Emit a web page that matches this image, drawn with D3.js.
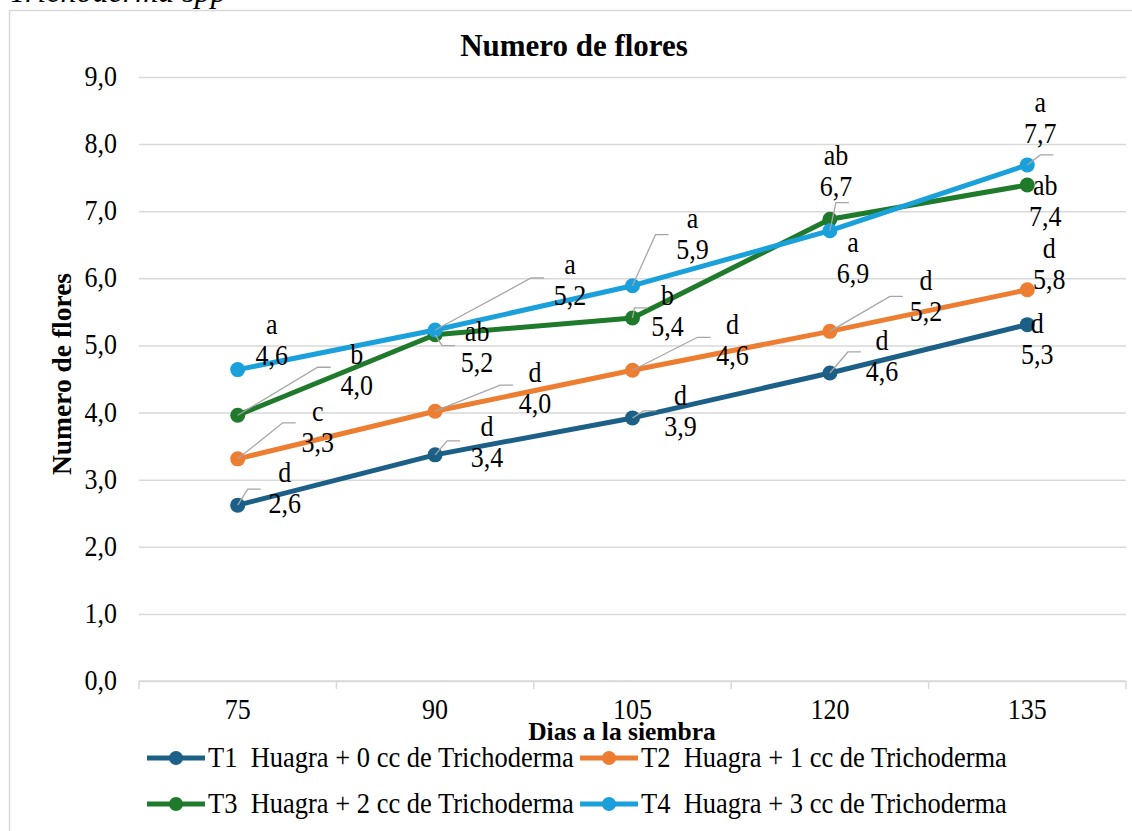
<!DOCTYPE html>
<html>
<head>
<meta charset="utf-8">
<script src="https://cdn.jsdelivr.net/npm/d3@7"></script>
<style>
  body { margin: 0; background: #fff; }
  svg text { font-family: "Liberation Serif", "Times New Roman", "DejaVu Serif", serif; fill: #000; }
</style>
</head>
<body>
<svg id="chart"></svg>
<script>
// --- Data ---
const days = ["75", "90", "105", "120", "135"];
const seriesNames = [
    "T1  Huagra + 0 cc de Trichoderma",
    "T2  Huagra + 1 cc de Trichoderma",
    "T3  Huagra + 2 cc de Trichoderma",
    "T4  Huagra + 3 cc de Trichoderma"
];
const t1 = [2.62, 3.37, 3.92, 4.59, 5.31];
const t2 = [3.31, 4.02, 4.63, 5.21, 5.83];
const t3 = [3.96, 5.16, 5.41, 6.88, 7.39];
const t4 = [4.64, 5.23, 5.89, 6.71, 7.69];
const t1Letters = ["d", "d", "d", "d", "d"];
const t2Letters = ["c", "d", "d", "d", "d"];
const t3Letters = ["b", "ab", "b", "a", "ab"];
const t4Letters = ["a", "a", "a", "ab", "a"];
const yTicks = [0, 1, 2, 3, 4, 5, 6, 7, 8, 9];

const colors = ["#1c5f87", "#ed7d31", "#1f7a2c", "#1aa0da"];

// label placement (dx, dy of label centre from point; leader elbow, or null)
const labelLayout = [
    [[47, -16, [10, -16]], [52, -12, [12, -14]], [48, -6, [11, -7]], [52, -16, [18, -21]], [10, 15, null]],
    [[80, -31, [45, -36]], [100, -22, [65, -26]], [100, -29, [65, -33]], [96, -34, [60, -35]], [22, -25, null]],
    [[119, -44, [80, -48]], [42, 13, [7, 11]], [35, -6, [2, -10]], [23, 40, null], [18, 17, null]],
    [[34, -29, null], [135, -49, [96, -52]], [60, -51, [23, -51]], [6, -59, [6, -28]], [13, -46, [13, -10]]]
];

const series = [t1, t2, t3, t4].map((values, i) => ({
    name: seriesNames[i],
    color: colors[i],
    values: values,
    letters: [t1Letters, t2Letters, t3Letters, t4Letters][i],
    layout: labelLayout[i]
}));

// --- Sizing ---
const width = 1132, height = 831;
const margin = { left: 139, right: 6, top: 77, bottom: 150 };
const stretch = 1.12;   // glyphs in the original are a bit taller than wide
const svg = d3.select("#chart").attr("width", width).attr("height", height);

// text placed at (x, y) with a slight vertical stretch
function addText(parent, x, y, str, size, opts = {}) {
    return parent.append("text")
        .attr("transform", `translate(${x},${y}) scale(1,${opts.sy || stretch})` + (opts.rotate ? ` rotate(${opts.rotate})` : ""))
        .attr("text-anchor", opts.anchor || "middle")
        .attr("font-size", size)
        .attr("font-weight", opts.bold ? "bold" : null)
        .attr("font-style", opts.italic ? "italic" : null)
        .attr("xml:space", "preserve")
        .style("white-space", "pre")
        .text(str);
}

// outer frame + clipped caption above it
svg.append("rect")
    .attr("x", 9.5).attr("y", 10.5)
    .attr("width", width).attr("height", height)
    .attr("fill", "#fff").attr("stroke", "#d9d9d9").attr("stroke-width", 1.5);

addText(svg, 9, 2, "Trichoderma spp", 32, { anchor: "start", italic: true, sy: 1 });

// --- Scales ---
const x = d3.scaleBand()
    .domain(days)
    .range([margin.left, width - margin.right]);

const y = d3.scaleLinear()
    .domain([0, 9])
    .range([height - margin.bottom, margin.top]);

const fmt = v => d3.format(".1f")(v).replace(".", ",");
const cx = d => x(d) + x.bandwidth() / 2;

// --- Gridlines & y axis ---
svg.append("g")
    .attr("transform", `translate(${margin.left},0)`)
    .call(d3.axisLeft(y).tickValues(yTicks).tickSize(-(width - margin.left - margin.right)).tickFormat(""))
    .call(g => g.select(".domain").remove())
    .call(g => g.selectAll(".tick line").attr("stroke", "#d9d9d9").attr("stroke-width", 1.5));
yTicks.forEach(t => addText(svg, 117, y(t) + 9, fmt(t), 26, { anchor: "end" }));

// --- x axis ---
const xAxisG = svg.append("g")
    .attr("transform", `translate(0,${y(0)})`);
xAxisG.append("line")
    .attr("x1", margin.left).attr("x2", width - margin.right)
    .attr("stroke", "#d9d9d9").attr("stroke-width", 1.5);
const bounds = days.map(d => x(d)).concat([x(days[days.length - 1]) + x.bandwidth()]);
xAxisG.selectAll("line.tk")
    .data(bounds)
    .join("line")
    .attr("class", "tk")
    .attr("x1", d => d).attr("x2", d => d)
    .attr("y1", 0).attr("y2", 8)
    .attr("stroke", "#d9d9d9").attr("stroke-width", 1.5);
days.forEach(d => addText(xAxisG, cx(d), 38, d, 26));

// --- Titles ---
addText(svg, 574, 56, "Numero de flores", 31, { bold: true, sy: 1.05 });
addText(svg, 71, 374, "Numero de flores", 27.5, { bold: true, rotate: -90, sy: 1 });
addText(svg, 622, 740, "Dias a la siembra", 25.5, { bold: true, sy: 1 });

// --- Leader lines ---
const leaders = svg.append("g");
series.forEach(s => {
    s.values.forEach((v, i) => {
        const lay = s.layout[i];
        if (!lay[2]) return;
        const px = cx(days[i]), py = y(v);
        const ex = px + lay[2][0], ey = py + lay[2][1];
        leaders.append("path")
            .attr("d", `M${px},${py}L${ex},${ey}L${ex + 13},${ey}`)
            .attr("fill", "none")
            .attr("stroke", "#a6a6a6")
            .attr("stroke-width", 1.3);
    });
});

// --- Lines & markers ---
const line = d3.line()
    .x((d, i) => cx(days[i]))
    .y(d => y(d));

const lines = svg.append("g");
series.forEach(s => {
    lines.append("path")
        .datum(s.values)
        .attr("d", line)
        .attr("fill", "none")
        .attr("stroke", s.color)
        .attr("stroke-width", 5)
        .attr("stroke-linejoin", "round");
    lines.selectAll(null)
        .data(s.values)
        .join("circle")
        .attr("cx", (d, i) => cx(days[i]))
        .attr("cy", d => y(d))
        .attr("r", 7.5)
        .attr("fill", s.color);
});

// leaders drawn over the markers, as in the original
svg.node().appendChild(leaders.node());

// --- Data labels ---
const labels = svg.append("g");
series.forEach(s => {
    s.values.forEach((v, i) => {
        const lay = s.layout[i];
        const lx = cx(days[i]) + lay[0], ly = y(v) + lay[1];
        addText(labels, lx, ly - 7, s.letters[i], 26);
        addText(labels, lx, ly + 24, fmt(v), 26);
    });
});

// --- Legend ---
const legendPos = [[147, 758], [580, 758], [147, 804], [580, 804]];
const legend = svg.append("g");
series.forEach((s, i) => {
    const g = legend.append("g").attr("transform", `translate(${legendPos[i][0]},${legendPos[i][1]})`);
    g.append("line").attr("x1", 0).attr("x2", 58)
        .attr("stroke", s.color).attr("stroke-width", 5);
    g.append("circle").attr("cx", 29).attr("r", 7).attr("fill", s.color);
    addText(g, 61, 9, s.name, 26.5, { anchor: "start" });
});
</script>
</body>
</html>
